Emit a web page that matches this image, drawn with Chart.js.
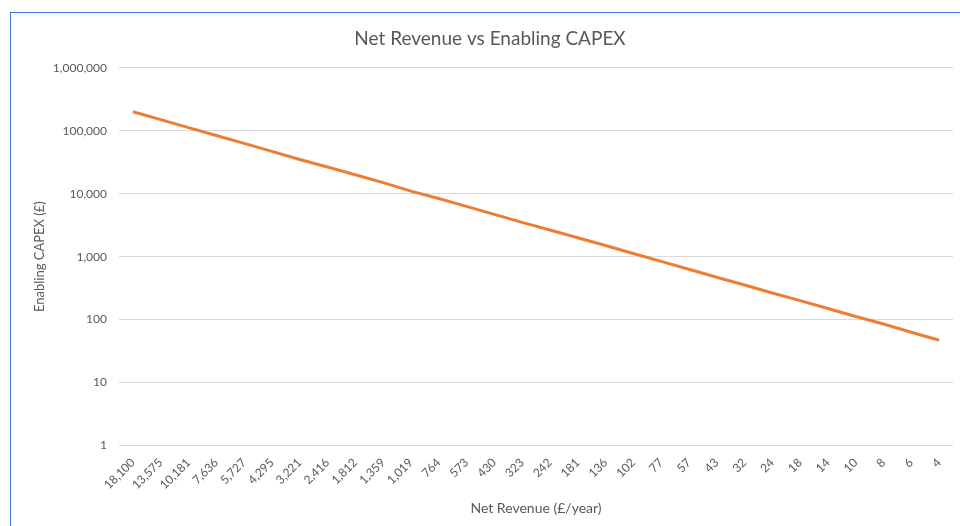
<!DOCTYPE html>
<html>
<head>
<meta charset="utf-8">
<script src="https://cdn.jsdelivr.net/npm/chart.js@4/dist/chart.umd.min.js"></script>
<style>
  html, body { margin:0; padding:0; background:#fff; }
  #wrap { position:relative; width:960px; height:526px; }
  #frame { position:absolute; left:10px; top:12px; right:0; bottom:0;
    border-left:1px solid #3f7be0; border-top:1px solid #3f7be0; pointer-events:none; }
</style>
</head>
<body>
<div id="wrap">
  <canvas id="chart" width="960" height="526"></canvas>
  <div id="frame"></div>
</div>
<script>
// net revenue (£/year) - x categories
var revenueLabels = ["18,100","13,575","10,181","7,636","5,727","4,295","3,221","2,416","1,812","1,359",
  "1,019","764","573","430","323","242","181","136","102","77",
  "57","43","32","24","18","14","10","8","6","4"];

// enabling capex (£)
var capexValues = [200000,150000,112000,84000,63000,47000,35000,26500,20000,15000,
  11000,8400,6300,4700,3500,2650,2000,1500,1120,840,
  630,470,355,265,200,150,112,85,63,47];

var titleText = "Net Revenue vs Enabling CAPEX";
var xTitle = "Net Revenue (£/year)";
var yTitle = "Enabling CAPEX (£)";

var txtColor = "#595959";
var fontFam = "Lato, 'Open Sans', sans-serif";

var ctx = document.getElementById("chart");
var chart = new Chart(ctx, {
  type: 'line',
  data: {
    labels: revenueLabels,
    datasets: [
      {
        label: 'Enabling CAPEX',
        data: capexValues,
        borderColor: '#ED7D31',
        backgroundColor: '#ED7D31',
        borderWidth: 3,
        pointRadius: 0,
        tension: 0,
      },
    ]
  },
  options: {
    responsive: false,
    animation: false,
    layout: { padding: { left: 27, right: 7, top: 0, bottom: 9 } },
    plugins: {
      legend: { display: false },
      tooltip: { enabled: false },
      title: {
        display: true,
        text: titleText,
        color: txtColor,
        font: { family: fontFam, size: 19, weight: 'normal' },
        padding: { top: 27, bottom: 18 },
      },
    },
    scales: {
      x: {
        offset: true,
        grid: { display: false },
        border: { display: false },
        ticks: {
          color: txtColor,
          font: { family: fontFam, size: 12 },
          autoSkip: false,
          maxRotation: 45,
          minRotation: 45,
          padding: 2,
        },
        title: {
          display: true,
          text: xTitle,
          color: txtColor,
          font: { family: fontFam, size: 14 },
          padding: { top: 6, bottom: 0 },
        },
      },
      y: {
        type: 'logarithmic',
        min: 1,
        max: 1000000,
        border: { display: false },
        grid: { color: '#d9d9d9', drawTicks: false },
        afterBuildTicks: (axis) => {
          axis.ticks = [1,10,100,1000,10000,100000,1000000].map((v) => ({ value: v }));
        },
        afterFit: (axis) => { axis.width = 92; },
        ticks: {
          color: txtColor,
          font: { family: fontFam, size: 12 },
          padding: 12,
          callback: (v) => Number(v).toLocaleString('en-US'),
        },
        title: {
          display: true,
          text: yTitle,
          color: txtColor,
          font: { family: fontFam, size: 13 },
          padding: { top: 5, bottom: 0 },
        },
      },
    },
  }
});
</script>
</body>
</html>
